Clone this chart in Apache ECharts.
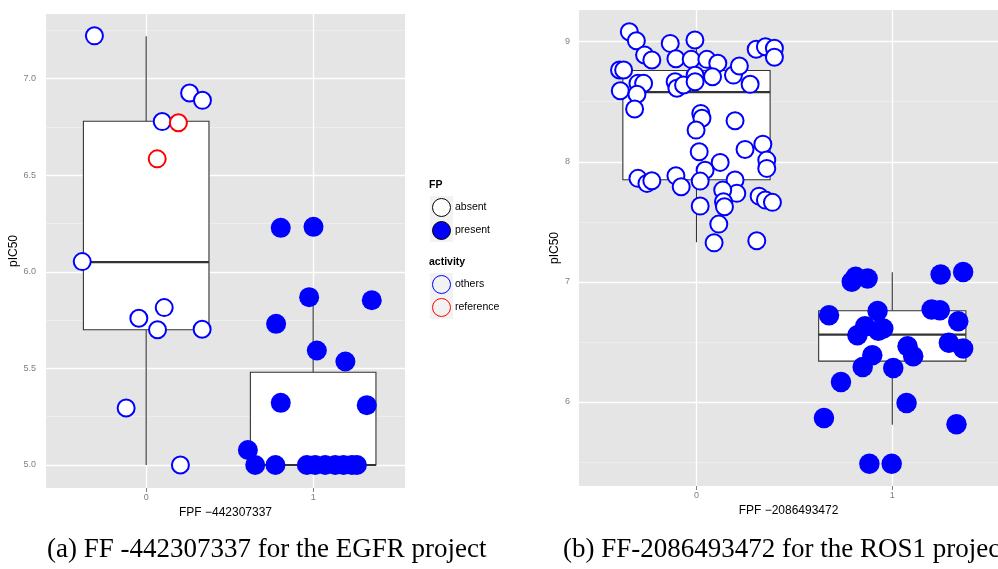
<!DOCTYPE html>
<html><head><meta charset="utf-8">
<script src="https://cdn.jsdelivr.net/npm/echarts@6/dist/echarts.min.js"></script>
<style>html,body{margin:0;padding:0;background:#fff}#c{width:998px;height:569px}</style>
</head><body><div id="c"></div>
<script>
// ---- data ----
const xTicks = [0, 1];
const egfrYTicks = [5.0, 5.5, 6.0, 6.5, 7.0];
const egfrYMinor = [5.25, 5.75, 6.25, 6.75, 7.25];
const ros1YTicks = [6, 7, 8, 9];
const ros1YMinor = [5.5, 6.5, 7.5, 8.5];
// box stats: [x, lower whisker, Q1, median, Q3, upper whisker]
const egfrBoxes = [[0, 5.00, 5.70, 6.05, 6.78, 7.22], [1, 5.00, 5.00, 5.00, 5.48, 5.87]];
const ros1Boxes = [[0, 7.33, 7.85, 8.58, 8.76, 9.08], [1, 5.81, 6.34, 6.56, 6.76, 7.08]];
const egfrAbsentOthers = [[-0.31,7.222],[0.26,6.926],[0.337,6.888],[0.096,6.778],[-0.383,6.053],[-0.044,5.760],[0.108,5.815],[0.068,5.700],[0.335,5.703],[-0.12,5.295],[0.205,5.0]];
const egfrAbsentReference = [[0.066,6.585],[0.193,6.772]];
const egfrPresent = [[0.806,6.228],[1.002,6.233],[0.976,5.869],[1.351,5.853],[0.778,5.731],[1.022,5.593],[1.193,5.536],[0.806,5.322],[1.321,5.310],[0.609,5.078],[0.653,5.0],[0.774,5.0],[0.962,5.0],[1.012,5.0],[1.072,5.0],[1.132,5.0],[1.182,5.0],[1.232,5.0],[1.262,5.0]];
const ros1Absent = [[-0.343,9.083],[-0.307,9.008],[-0.265,8.889],[-0.228,8.848],[-0.393,8.764],[-0.372,8.764],[-0.299,8.653],[-0.27,8.653],[-0.389,8.592],[-0.304,8.562],[-0.316,8.439],[-0.134,8.986],[-0.008,9.014],[-0.105,8.858],[-0.027,8.853],[0.053,8.853],[0.109,8.82],[-0.109,8.667],[-0.1,8.612],[-0.066,8.639],[-0.007,8.72],[-0.007,8.667],[0.082,8.708],[0.189,8.722],[0.219,8.798],[0.274,8.645],[0.305,8.937],[0.352,8.958],[0.398,8.945],[0.398,8.87],[0.022,8.403],[0.028,8.362],[-0.002,8.264],[0.197,8.342],[0.014,8.083],[0.121,7.995],[0.248,8.103],[0.339,8.147],[0.359,8.014],[0.359,7.945],[-0.299,7.862],[-0.253,7.82],[-0.228,7.842],[-0.105,7.883],[-0.078,7.792],[0.044,7.93],[0.019,7.839],[0.197,7.848],[0.206,7.737],[0.134,7.764],[0.138,7.667],[0.143,7.625],[0.019,7.631],[0.32,7.714],[0.352,7.681],[0.388,7.662],[0.114,7.481],[0.09,7.325],[0.308,7.342]];
const ros1Present = [[0.793,7.0],[0.813,7.042],[0.874,7.028],[1.247,7.062],[1.362,7.083],[0.677,6.722],[0.925,6.758],[1.201,6.77],[1.243,6.764],[1.337,6.672],[0.861,6.631],[0.822,6.556],[0.929,6.592],[0.954,6.612],[1.078,6.464],[1.107,6.381],[1.289,6.492],[1.362,6.445],[0.898,6.389],[0.849,6.292],[1.005,6.283],[0.738,6.167],[1.073,5.992],[0.651,5.867],[1.328,5.814],[0.883,5.486],[0.997,5.486]];

// ---- styling ----
const BLUE = '#0000ff', RED = '#ff0000';
const BOX_HALF = 0.376;
const SANS = '"Liberation Sans", Arial, sans-serif';
const SERIF = '27px "Liberation Serif", "Times New Roman", serif';
const TICK_GREY = '#7f7f7f';

function boxRender(params, api) {
  const x = api.value(0), lo = api.value(1), q1 = api.value(2), med = api.value(3), q3 = api.value(4), hi = api.value(5);
  const tl = api.coord([x - BOX_HALF, q3]), br = api.coord([x + BOX_HALF, q1]);
  const ml = api.coord([x - BOX_HALF, med]), mr = api.coord([x + BOX_HALF, med]);
  const pHi = api.coord([x, hi]), pQ3 = api.coord([x, q3]), pQ1 = api.coord([x, q1]), pLo = api.coord([x, lo]);
  const ls = { stroke: '#333333', lineWidth: 1.1 };
  return { type: 'group', children: [
    { type: 'line', shape: { x1: pHi[0], y1: pHi[1], x2: pQ3[0], y2: pQ3[1] }, style: ls },
    { type: 'line', shape: { x1: pQ1[0], y1: pQ1[1], x2: pLo[0], y2: pLo[1] }, style: ls },
    { type: 'rect', shape: { x: tl[0], y: tl[1], width: br[0] - tl[0], height: br[1] - tl[1] }, style: { fill: '#fff', stroke: '#333333', lineWidth: 1.1 } },
    { type: 'line', shape: { x1: ml[0], y1: ml[1], x2: mr[0], y2: mr[1] }, style: { stroke: '#333333', lineWidth: 2.2 } }
  ]};
}

function gridSeries(idx, yMajor, yMinor) {
  return [
    { type: 'scatter', xAxisIndex: idx, yAxisIndex: idx, data: [], silent: true, z: 0,
      markLine: { silent: true, symbol: 'none', z: 0, animation: false, label: { show: false },
        lineStyle: { color: '#f2f2f2', width: 0.7, type: 'solid' },
        emphasis: { disabled: true },
        data: yMinor.map(v => ({ yAxis: v })) } },
    { type: 'scatter', xAxisIndex: idx, yAxisIndex: idx, data: [], silent: true, z: 0,
      markLine: { silent: true, symbol: 'none', z: 1, animation: false, label: { show: false },
        lineStyle: { color: '#ffffff', width: 1.3, type: 'solid' },
        emphasis: { disabled: true },
        data: yMajor.map(v => ({ yAxis: v })).concat(xTicks.map(v => ({ xAxis: v }))) } }
  ];
}

function xAxisOpt(idx, min, max, name) {
  return { type: 'value', gridIndex: idx, min: min, max: max,
    splitLine: { show: false }, axisLine: { show: false },
    axisTick: { show: true, length: 4, lineStyle: { color: TICK_GREY }, customValues: xTicks },
    axisLabel: { customValues: xTicks, color: TICK_GREY, fontSize: 9, margin: 5, fontFamily: SANS,
      formatter: v => (xTicks.indexOf(v) >= 0 ? String(v) : '') },
    name: name, nameLocation: 'middle', nameGap: 16,
    nameTextStyle: { color: '#000', fontSize: 12, fontFamily: SANS } };
}
function yAxisOpt(idx, min, max, ticks, digits, gap, margin) {
  return { type: 'value', gridIndex: idx, min: min, max: max,
    splitLine: { show: false }, axisLine: { show: false },
    axisTick: { show: true, length: 4, lineStyle: { color: TICK_GREY }, customValues: ticks },
    axisLabel: { customValues: ticks, color: TICK_GREY, fontSize: 9, margin: margin, fontFamily: SANS,
      formatter: v => (ticks.some(t => Math.abs(t - v) < 1e-9) ? v.toFixed(digits) : '') },
    name: 'pIC50', nameLocation: 'middle', nameGap: gap,
    nameTextStyle: { color: '#000', fontSize: 12, fontFamily: SANS } };
}

const openStyle = c => ({ color: '#ffffff', borderColor: c, borderWidth: 2, opacity: 1 });

const chart = echarts.init(document.getElementById('c'), null, { renderer: 'canvas' });
const legendFont = '10.5px ' + SANS;
chart.setOption({
  animation: false,
  backgroundColor: '#ffffff',
  grid: [
    { left: 46, top: 14, width: 359, height: 474, show: true, backgroundColor: '#e5e5e5', borderWidth: 0 },
    { left: 579, top: 10, width: 419, height: 476, show: true, backgroundColor: '#e5e5e5', borderWidth: 0 }
  ],
  xAxis: [ xAxisOpt(0, -0.6, 1.55, 'FPF \u2212442307337'), xAxisOpt(1, -0.6, 1.54, 'FPF \u22122086493472') ],
  yAxis: [ yAxisOpt(0, 4.881, 7.335, egfrYTicks, 1, 24, 10), yAxisOpt(1, 5.3, 9.264, ros1YTicks, 0, 15, 9) ],
  series: [
    ...gridSeries(0, egfrYTicks, egfrYMinor),
    ...gridSeries(1, ros1YTicks, ros1YMinor),
    { type: 'custom', xAxisIndex: 0, yAxisIndex: 0, z: 2, silent: true, renderItem: boxRender,
      encode: { x: 0, y: [1, 2, 3, 4, 5] }, data: egfrBoxes },
    { type: 'custom', xAxisIndex: 1, yAxisIndex: 1, z: 2, silent: true, renderItem: boxRender,
      encode: { x: 0, y: [1, 2, 3, 4, 5] }, data: ros1Boxes },
    { name: 'absent others', type: 'scatter', xAxisIndex: 0, yAxisIndex: 0, z: 3, symbolSize: 17,
      itemStyle: openStyle(BLUE), data: egfrAbsentOthers },
    { name: 'absent reference', type: 'scatter', xAxisIndex: 0, yAxisIndex: 0, z: 3, symbolSize: 17,
      itemStyle: openStyle(RED), data: egfrAbsentReference },
    { name: 'present', type: 'scatter', xAxisIndex: 0, yAxisIndex: 0, z: 3, symbolSize: 20,
      itemStyle: { color: BLUE, opacity: 1 }, data: egfrPresent },
    { name: 'absent others', type: 'scatter', xAxisIndex: 1, yAxisIndex: 1, z: 3, symbolSize: 17,
      itemStyle: openStyle(BLUE), data: ros1Absent },
    { name: 'present', type: 'scatter', xAxisIndex: 1, yAxisIndex: 1, z: 3, symbolSize: 20.5,
      itemStyle: { color: BLUE, opacity: 1 }, data: ros1Present }
  ],
  graphic: [
    { type: 'text', left: 429, top: 180, style: { text: 'FP', font: 'bold 10.5px ' + SANS, fill: '#000' } },
    { type: 'rect', shape: { x: 430, y: 196, width: 23, height: 23 }, style: { fill: '#f2f2f2' } },
    { type: 'circle', shape: { cx: 441.5, cy: 207.5, r: 9 }, style: { fill: '#fff', stroke: '#000', lineWidth: 1 } },
    { type: 'text', x: 455, y: 207.5, style: { text: 'absent', font: legendFont, fill: '#000', verticalAlign: 'middle' } },
    { type: 'rect', shape: { x: 430, y: 219, width: 23, height: 23 }, style: { fill: '#f2f2f2' } },
    { type: 'circle', shape: { cx: 441.5, cy: 230.5, r: 9 }, style: { fill: BLUE, stroke: '#000', lineWidth: 1 } },
    { type: 'text', x: 455, y: 230.5, style: { text: 'present', font: legendFont, fill: '#000', verticalAlign: 'middle' } },
    { type: 'text', left: 429, top: 257, style: { text: 'activity', font: 'bold 10.5px ' + SANS, fill: '#000' } },
    { type: 'rect', shape: { x: 430, y: 273, width: 23, height: 23 }, style: { fill: '#f2f2f2' } },
    { type: 'circle', shape: { cx: 441.5, cy: 284.5, r: 9 }, style: { fill: 'none', stroke: BLUE, lineWidth: 1 } },
    { type: 'text', x: 455, y: 284.5, style: { text: 'others', font: legendFont, fill: '#000', verticalAlign: 'middle' } },
    { type: 'rect', shape: { x: 430, y: 296, width: 23, height: 23 }, style: { fill: '#f2f2f2' } },
    { type: 'circle', shape: { cx: 441.5, cy: 307.5, r: 9 }, style: { fill: 'none', stroke: RED, lineWidth: 1 } },
    { type: 'text', x: 455, y: 307.5, style: { text: 'reference', font: legendFont, fill: '#000', verticalAlign: 'middle' } },
    { type: 'text', x: 47, y: 550, style: { text: '(a) FF -442307337 for the EGFR project', font: SERIF, fill: '#000', align: 'left', verticalAlign: 'middle' } },
    { type: 'text', x: 563, y: 550, style: { text: '(b) FF-2086493472 for the ROS1 project', font: SERIF, fill: '#000', align: 'left', verticalAlign: 'middle' } }
  ]
});
</script></body></html>
